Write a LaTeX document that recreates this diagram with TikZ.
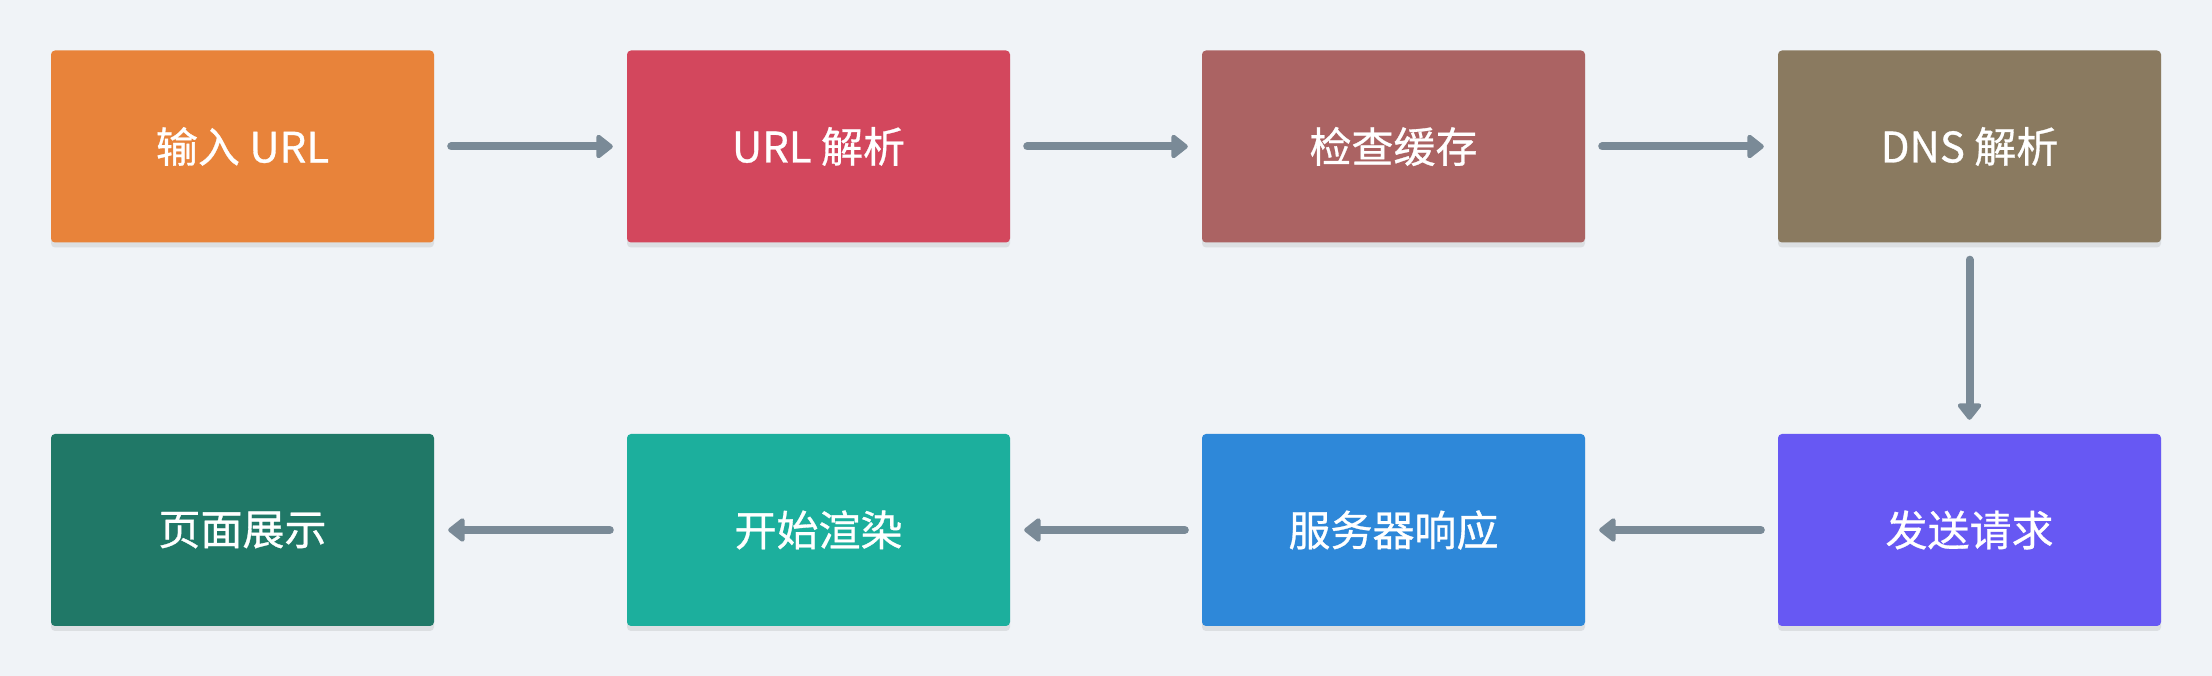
\documentclass[tikz,border=0pt]{standalone}
\usepackage{fontspec}
\setmainfont{Noto Sans CJK SC}
\newfontfamily\boxfont{Noto Sans CJK SC}[FakeBold=0.7]
\usetikzlibrary{arrows.meta,shadows}
\definecolor{bgc}{HTML}{F0F3F7}
\definecolor{arrc}{HTML}{7A8A97}
\definecolor{cA}{HTML}{E8833A}
\definecolor{cB}{HTML}{D3475D}
\definecolor{cC}{HTML}{AB6363}
\definecolor{cD}{HTML}{8A7A60}
\definecolor{cE}{HTML}{6758F3}
\definecolor{cF}{HTML}{2E88D9}
\definecolor{cG}{HTML}{1CAF9D}
\definecolor{cH}{HTML}{207867}
\tikzset{
  box/.style={rectangle, rounded corners=4pt, minimum width=383pt, minimum height=192pt,
    inner sep=0pt, text=white, font=\boxfont\fontsize{42}{50}\selectfont,
    drop shadow={shadow xshift=0pt, shadow yshift=-5pt, opacity=0.14, fill=black!60}},
  arr/.style={draw=arrc, line width=8pt, line cap=round, -{Triangle[width=27pt,length=18pt,round]}}
}
\begin{document}
\begin{tikzpicture}[x=1pt,y=1pt]
\fill[bgc] (0,0) rectangle (2212,676);
\useasboundingbox (0,0) rectangle (2212,676);
\node[box, fill=cA] (n1) at (242.5,529.5) {输入 URL};
\node[box, fill=cB] (n2) at (818.5,529.5) {URL 解析};
\node[box, fill=cC] (n3) at (1393.5,529.5) {检查缓存};
\node[box, fill=cD] (n4) at (1969.5,529.5) {DNS 解析};
\node[box, fill=cE] (n5) at (1969.5,146) {发送请求};
\node[box, fill=cF] (n6) at (1393.5,146) {服务器响应};
\node[box, fill=cG] (n7) at (818.5,146) {开始渲染};
\node[box, fill=cH] (n8) at (242.5,146) {页面展示};
\draw[arr] ([xshift=17pt]n1.east) -- ([xshift=-14pt]n2.west);
\draw[arr] ([xshift=17pt]n2.east) -- ([xshift=-14pt]n3.west);
\draw[arr] ([xshift=17pt]n3.east) -- ([xshift=-14pt]n4.west);
\draw[arr] ([yshift=-17pt]n4.south) -- ([yshift=14pt]n5.north);
\draw[arr] ([xshift=-17pt]n5.west) -- ([xshift=14pt]n6.east);
\draw[arr] ([xshift=-17pt]n6.west) -- ([xshift=14pt]n7.east);
\draw[arr] ([xshift=-17pt]n7.west) -- ([xshift=14pt]n8.east);
\end{tikzpicture}
\end{document}
